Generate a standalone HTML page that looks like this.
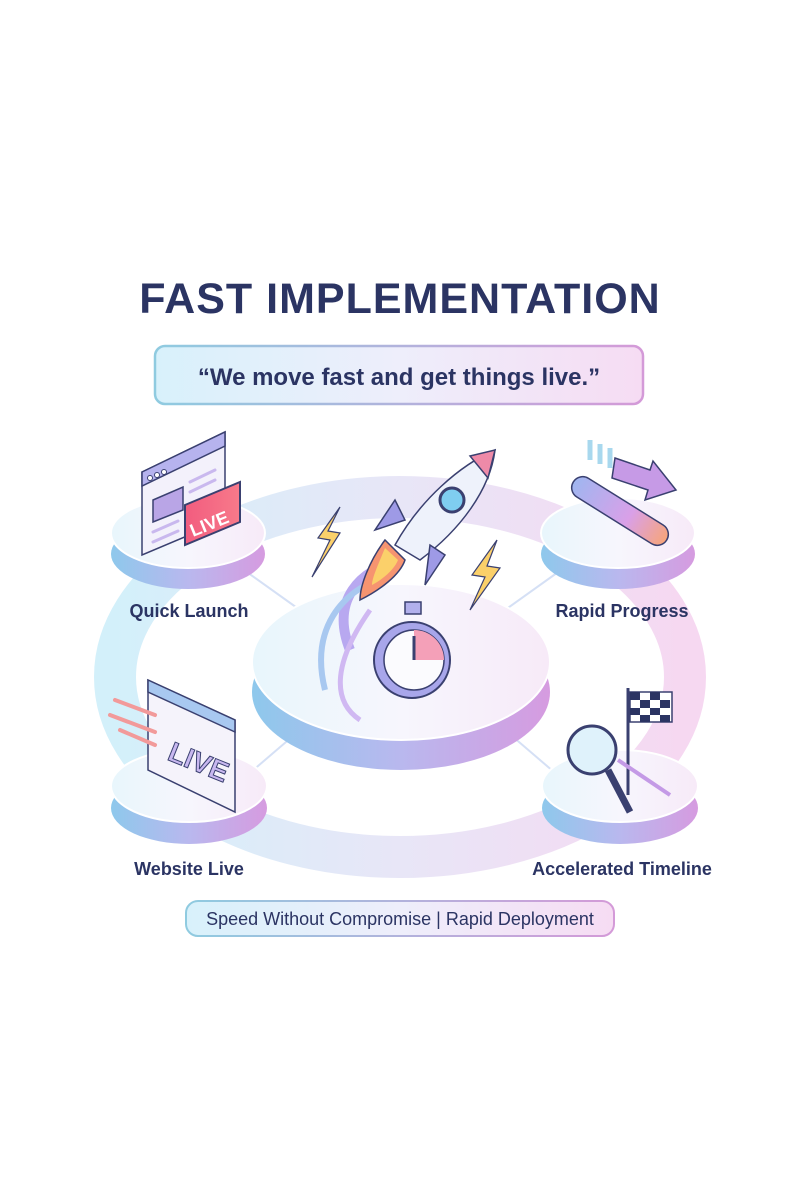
<!DOCTYPE html>
<html><head><meta charset="utf-8"><style>
html,body{margin:0;padding:0;background:#fff}
svg{display:block}
text{font-family:"Liberation Sans",sans-serif}
</style></head><body>
<svg width="800" height="1200" viewBox="0 0 800 1200" xmlns="http://www.w3.org/2000/svg">
<defs>
<linearGradient id="g1" x1="0" x2="1"><stop offset="0" stop-color="#d8f1fb"/><stop offset="0.5" stop-color="#eeeefb"/><stop offset="1" stop-color="#f6dcf3"/></linearGradient>
<linearGradient id="ring" x1="0" x2="1"><stop offset="0" stop-color="#d3f0fa"/><stop offset="0.5" stop-color="#e8e6f7"/><stop offset="1" stop-color="#f6d8f1"/></linearGradient>
<linearGradient id="side" x1="0" x2="1"><stop offset="0" stop-color="#8ec8ec"/><stop offset="0.5" stop-color="#b9b8ee"/><stop offset="1" stop-color="#d69be0"/></linearGradient>
<linearGradient id="top" x1="0" x2="1"><stop offset="0" stop-color="#e8f6fc"/><stop offset="0.5" stop-color="#f7f6fd"/><stop offset="1" stop-color="#f7eaf8"/></linearGradient>
<linearGradient id="border" x1="0" x2="1"><stop offset="0" stop-color="#8fcbe0"/><stop offset="1" stop-color="#d49ad8"/></linearGradient>
<linearGradient id="live" x1="0" x2="1"><stop offset="0" stop-color="#f25c7f"/><stop offset="1" stop-color="#f77a8a"/></linearGradient>
<linearGradient id="bar" x1="0" x2="1"><stop offset="0" stop-color="#9fb6f0"/><stop offset="0.6" stop-color="#d9a0e8"/><stop offset="1" stop-color="#f7a57a"/></linearGradient>
</defs>

<text x="400" y="313" text-anchor="middle" font-size="43" font-weight="bold" fill="#2b3463" letter-spacing="1">FAST IMPLEMENTATION</text>

<rect x="155" y="346" width="488" height="58" rx="10" fill="url(#g1)" stroke="url(#border)" stroke-width="2.5"/>
<text x="399" y="385" text-anchor="middle" font-size="24" font-weight="bold" fill="#2b3463">“We move fast and get things live.”</text>

<!-- ring -->
<ellipse cx="400" cy="677" rx="285" ry="180" fill="none" stroke="url(#ring)" stroke-width="42"/>

<!-- connectors -->
<g stroke="#d5e0f5" stroke-width="2">
<line x1="230" y1="560" x2="300" y2="610"/>
<line x1="575" y1="560" x2="505" y2="610"/>
<line x1="230" y1="790" x2="300" y2="730"/>
<line x1="575" y1="790" x2="505" y2="730"/>
</g>

<!-- center platform -->
<ellipse cx="401" cy="692" rx="149" ry="78" fill="url(#side)"/>
<ellipse cx="401" cy="662" rx="149" ry="78" fill="url(#top)" stroke="#ffffff" stroke-width="2"/>

<!-- small platforms -->
<g>
<ellipse cx="188" cy="554" rx="77" ry="35" fill="url(#side)"/>
<ellipse cx="188" cy="533" rx="77" ry="35" fill="url(#top)" stroke="#fff" stroke-width="2"/>
<ellipse cx="618" cy="554" rx="77" ry="35" fill="url(#side)"/>
<ellipse cx="618" cy="533" rx="77" ry="35" fill="url(#top)" stroke="#fff" stroke-width="2"/>
<ellipse cx="189" cy="808" rx="78" ry="36" fill="url(#side)"/>
<ellipse cx="189" cy="786" rx="78" ry="36" fill="url(#top)" stroke="#fff" stroke-width="2"/>
<ellipse cx="620" cy="808" rx="78" ry="36" fill="url(#side)"/>
<ellipse cx="620" cy="786" rx="78" ry="36" fill="url(#top)" stroke="#fff" stroke-width="2"/>
</g>

<!-- Quick launch icon -->
<g stroke="#3a4070" stroke-width="1.5">
<polygon points="142,472 225,432 225,520 142,555" fill="#f3f1fb"/>
<polygon points="142,472 225,432 225,446 142,486" fill="#b6b3ee"/>
<g fill="#fff" stroke="#3a4070" stroke-width="1"><circle cx="150" cy="478" r="2.5"/><circle cx="157" cy="475" r="2.5"/><circle cx="164" cy="472" r="2.5"/></g>
<polygon points="153,500 183,487 183,510 153,522" fill="#b9a5e6"/>
<polygon points="185,505 240,482 240,522 185,545" fill="url(#live)" stroke-width="2"/>
</g>
<g stroke="#c9b8ee" stroke-width="3" stroke-linecap="round"><line x1="190" y1="482" x2="215" y2="470"/><line x1="190" y1="492" x2="215" y2="480"/><line x1="153" y1="532" x2="178" y2="521"/><line x1="153" y1="542" x2="178" y2="531"/></g>
<text x="193" y="537" font-size="18" font-weight="bold" fill="#fff" transform="rotate(-22 193 537)">LIVE</text>

<!-- Rapid progress icon -->
<g stroke="#3a4070" stroke-width="1.5">
<rect x="565" y="500" width="110" height="22" rx="11" fill="url(#bar)" transform="rotate(32 620 511)"/>
<polygon points="615,458 650,470 653,461 676,490 645,500 648,490 612,478" fill="#c69ae6"/>
</g>
<g stroke="#a8d8ee" stroke-width="5"><line x1="590" y1="440" x2="590" y2="460"/><line x1="600" y1="444" x2="600" y2="464"/><line x1="610" y1="448" x2="610" y2="468"/></g>

<!-- Website live icon -->
<g stroke="#3a4070" stroke-width="1.5">
<polygon points="148,680 235,720 235,812 148,770" fill="#f5f3fb"/>
<polygon points="148,680 235,720 235,732 148,692" fill="#a8c8f0"/>
</g>
<text x="170" y="760" font-size="28" font-weight="bold" fill="#c8b8f0" stroke="#3a4070" stroke-width="1" transform="rotate(22 170 750)">LIVE</text>
<g stroke="#f29a9a" stroke-width="4" stroke-linecap="round"><line x1="115" y1="700" x2="155" y2="715"/><line x1="110" y1="715" x2="155" y2="732"/><line x1="120" y1="730" x2="155" y2="745"/></g>

<!-- Accelerated icon -->
<g stroke="#3a4070" stroke-width="1.5">
<line x1="628" y1="688" x2="628" y2="795" stroke-width="3"/>
<rect x="630" y="692" width="42" height="30" fill="#fff"/>
<g fill="#2b3463" stroke="none"><rect x="630" y="692" width="10" height="8"/><rect x="650" y="692" width="10" height="8"/><rect x="640" y="700" width="10" height="8"/><rect x="660" y="700" width="10" height="8"/><rect x="630" y="708" width="10" height="7"/><rect x="650" y="708" width="10" height="7"/><rect x="640" y="715" width="10" height="7"/><rect x="660" y="715" width="10" height="7"/></g>
<circle cx="592" cy="750" r="24" fill="#dff2fb" stroke-width="3"/>
<line x1="608" y1="770" x2="630" y2="812" stroke-width="7"/>
<line x1="618" y1="760" x2="670" y2="795" stroke="#c49ae6" stroke-width="4"/>
</g>

<!-- center: rocket, stopwatch -->
<g stroke="#3a4070" stroke-width="1.5">
<path d="M350,650 C330,600 360,570 400,560" fill="none" stroke="#b8a8f0" stroke-width="10"/>
<path d="M325,690 C310,630 340,590 390,575" fill="none" stroke="#a8c8f0" stroke-width="6"/>
<path d="M370,610 C335,660 330,700 360,720" fill="none" stroke="#d0b8f2" stroke-width="5"/>
<path d="M385,540 C370,560 360,585 360,600 C380,590 400,575 405,560 Z" fill="#f69470"/>
<path d="M385,548 C378,565 372,578 372,585 C385,578 395,568 398,560 Z" fill="#fbd06a" stroke="none"/>
<path d="M395,545 C420,500 460,465 495,450 C490,490 460,530 420,560 Z" fill="#eef2fb"/>
<path d="M470,456 L495,450 L488,478 Z" fill="#ee8aa8"/>
<circle cx="452" cy="500" r="12" fill="#7fcdf0" stroke-width="3"/>
<path d="M405,520 L375,530 L395,500 Z" fill="#9e9ae6"/>
<path d="M430,545 L425,585 L445,555 Z" fill="#9e9ae6"/>
<circle cx="412" cy="660" r="38" fill="#a8a6ea" stroke-width="2"/>
<circle cx="414" cy="660" r="30" fill="#fbfbfe"/>
<path d="M414,630 A30,30 0 0 1 444,660 L414,660 Z" fill="#f4a0b8" stroke="none"/>
<line x1="414" y1="660" x2="414" y2="636" stroke-width="3"/>
<rect x="405" y="602" width="16" height="12" fill="#b2b0ec"/>
</g>
<g fill="#fbd06a" stroke="#3a4070" stroke-width="1.2">
<polygon points="340,507 318,538 330,540 312,577 340,533 328,531"/>
<polygon points="497,540 472,575 485,577 470,610 500,568 487,566"/>
</g>

<!-- labels -->
<g font-size="18" font-weight="bold" fill="#2b3463" text-anchor="middle">
<text x="189" y="617">Quick Launch</text>
<text x="622" y="617">Rapid Progress</text>
<text x="189" y="875">Website Live</text>
<text x="622" y="875">Accelerated Timeline</text>
</g>

<rect x="186" y="901" width="428" height="35" rx="12" fill="url(#g1)" stroke="url(#border)" stroke-width="2"/>
<text x="400" y="925" text-anchor="middle" font-size="18" fill="#2b3463">Speed Without Compromise | Rapid Deployment</text>
</svg>
</body></html>
